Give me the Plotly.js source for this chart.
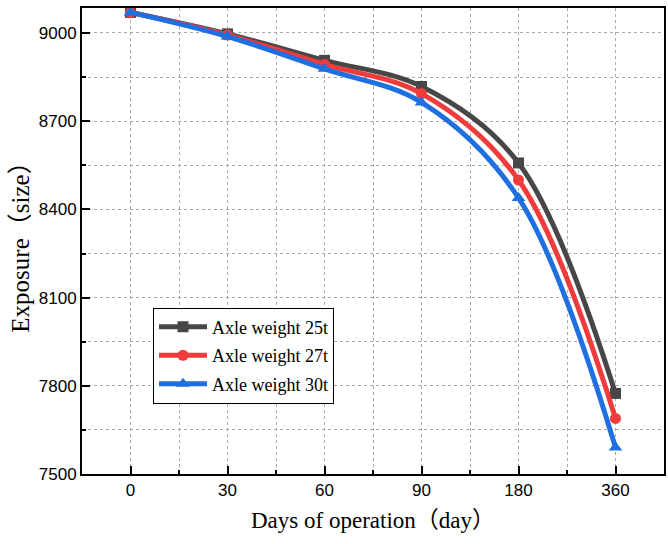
<!DOCTYPE html>
<html><head><meta charset="utf-8">
<script src="https://cdn.plot.ly/plotly-3.0.1.min.js"></script>
<style>html,body{margin:0;padding:0;background:#fff}</style>
</head><body>
<div id="chart" style="width:668px;height:544px"></div>
<script>
const days = ['0','30','60','90','180','360'];
const axle25 = [9070, 8997, 8907, 8818, 8558, 7774];
const axle27 = [9070, 8993, 8893, 8794, 8500, 7689];
const axle30 = [9070, 8988, 8878, 8764, 8439, 7590];
const seriesNames = ['Axle weight 25t', 'Axle weight 27t', 'Axle weight 30t'];

const xi = days.map((d, i) => i);
const colors = ['#474747', '#ef3b3b', '#1f6fe0'];
const symbols = ['square', 'circle', 'triangle-up'];
const data = [axle25, axle27, axle30].map((ys, k) => ({
  x: xi, y: ys, name: seriesNames[k], type: 'scatter', mode: 'lines+markers',
  legendgroup: 'g' + k,
  line: {color: colors[k], width: 5, shape: 'spline', smoothing: 1},
  marker: {symbol: symbols[k], size: k === 2 ? 12 : 11, color: colors[k]}
}));

const serif = {family: '"Liberation Serif", "Times New Roman", "Noto Sans CJK SC", serif', color: '#000'};
const sans = {family: '"Liberation Sans", Arial, sans-serif', color: '#000'};
const grid = {showgrid: true, gridcolor: '#a8a8a8', griddash: '3px,3px', gridwidth: 1};
const layout = {
  width: 668, height: 544,
  margin: {l: 82, r: 4, t: 8, b: 70},
  paper_bgcolor: '#fff', plot_bgcolor: '#fff',
  font: Object.assign({size: 17}, serif),
  showlegend: true,
  legend: {x: 0.122, y: 0.357, xanchor: 'left', yanchor: 'top', bordercolor: '#000', borderwidth: 1,
    bgcolor: '#fff', font: Object.assign({size: 18}, serif), traceorder: 'grouped', tracegroupgap: 2,
    itemwidth: 48},
  xaxis: Object.assign({
    type: 'linear', range: [-0.5, 5.5], tickvals: xi, ticktext: days,
    showline: true, linecolor: '#000', linewidth: 2, mirror: true,
    ticks: 'inside', ticklen: 8, tickwidth: 2, tickcolor: '#000',
    zeroline: false,
    minor: Object.assign({dtick: 0.5, tick0: 0.5, ticks: 'inside', ticklen: 4, tickwidth: 2, tickcolor: '#000'}, grid),
    tickfont: Object.assign({size: 17}, sans),
    title: {text: 'Days of operation（day）', font: Object.assign({size: 23}, serif), standoff: 12}
  }, grid),
  yaxis: Object.assign({
    range: [7500, 9085], dtick: 300, tick0: 7500,
    showline: true, linecolor: '#000', linewidth: 2, mirror: true,
    ticks: 'inside', ticklen: 8, tickwidth: 2, tickcolor: '#000',
    zeroline: false,
    minor: Object.assign({dtick: 150, ticks: 'inside', ticklen: 4, tickwidth: 2, tickcolor: '#000'}, grid),
    tickfont: Object.assign({size: 17}, sans),
    title: {text: 'Exposure（size）', font: Object.assign({size: 25}, serif), standoff: 2}
  }, grid)
};
Plotly.newPlot('chart', data, layout, {displayModeBar: false, staticPlot: true});
</script>
</body></html>
